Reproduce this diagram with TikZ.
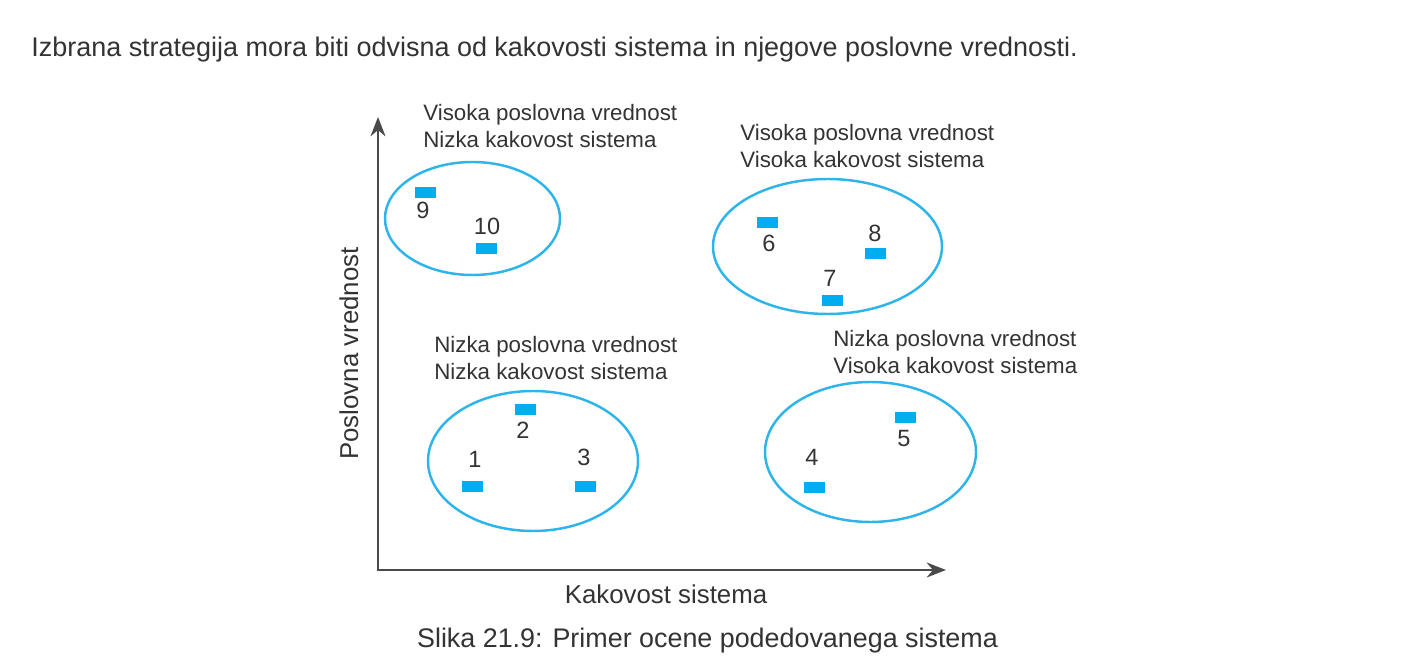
\documentclass[tikz,border=0pt]{standalone}
\usepackage{fontspec}
\setmainfont{Liberation Sans}
\usepackage{xcolor}
\definecolor{ink}{HTML}{333333}
\definecolor{axisgray}{HTML}{4A4A4A}
\definecolor{ringblue}{HTML}{2DB4EA}
\definecolor{boxblue}{HTML}{00ADEE}
\usetikzlibrary{arrows.meta}

\tikzset{
  sysbox/.style={fill=boxblue, minimum width=0.42cm, minimum height=0.22cm, inner sep=0pt},
  sysnum/.style={font=\fontsize{13.4}{16}\selectfont, inner sep=0pt},
  quadtext/.style={font=\fontsize{12.7}{15.3}\selectfont, align=left, anchor=north west, inner sep=0pt},
  ring/.style={draw=ringblue, line width=1.4pt},
}

\begin{document}
\begin{tikzpicture}[x=0.02cm, y=-0.02cm, text=ink]
  \useasboundingbox (0,0) rectangle (1403,668);

  % Lead sentence and caption
  \node[anchor=base west, inner sep=0pt, font=\fontsize{15.35}{18}\selectfont] (lead) at (31,57)
    {Izbrana strategija mora biti odvisna od kakovosti sistema in njegove poslovne vrednosti.};
  \node[anchor=base, inner sep=0pt, font=\fontsize{15.3}{18}\selectfont] (caption) at (707.5,647)
    {Slika 21.9: Primer ocene podedovanega sistema};

  % Axes
  \coordinate (origin) at (378,570);
  \coordinate (ytip) at (378,117);
  \coordinate (xtip) at (946,570);
  \draw[{Stealth[length=11pt,width=8.5pt]}-{Stealth[length=11pt,width=8.5pt]}, line width=1.2pt, color=axisgray]
    (ytip) -- (origin) -- (xtip);
  \node[anchor=base, inner sep=0pt, font=\fontsize{14.7}{17}\selectfont] (xlabel) at (666,603) {Kakovost sistema};
  \node[anchor=base, inner sep=0pt, rotate=90, font=\fontsize{14.7}{17}\selectfont] (ylabel) at (358,353.5) {Poslovna vrednost};

  % Quadrant headings
  \node[quadtext] (hvlq) at (423,104) {Visoka poslovna vrednost\\Nizka kakovost sistema};
  \node[quadtext] (hvhq) at (740,124) {Visoka poslovna vrednost\\Visoka kakovost sistema};
  \node[quadtext] (lvlq) at (434,336) {Nizka poslovna vrednost\\Nizka kakovost sistema};
  \node[quadtext] (lvhq) at (833,330) {Nizka poslovna vrednost\\Visoka kakovost sistema};

  % Groups
  \draw[ring] (472.5,218.5) ellipse [x radius=87.5, y radius=56.5];
  \draw[ring] (827.5,246.5) ellipse [x radius=114.5, y radius=67.5];
  \draw[ring] (533,461) ellipse [x radius=105, y radius=70];
  \draw[ring] (870.5,452) ellipse [x radius=105.5, y radius=70];

  % Systems
  \node[sysbox] (s1) at (472.5,487) {};
  \node[sysnum] (n1) at (475,459) {1};
  \node[sysbox] (s2) at (525,409.5) {};
  \node[sysnum] (n2) at (523,430) {2};
  \node[sysbox] (s3) at (585.5,487) {};
  \node[sysnum] (n3) at (584,457) {3};
  \node[sysbox] (s4) at (814.5,487.5) {};
  \node[sysnum] (n4) at (812,457) {4};
  \node[sysbox] (s5) at (905.5,417.5) {};
  \node[sysnum] (n5) at (904,439) {5};
  \node[sysbox] (s6) at (767,223) {};
  \node[sysnum] (n6) at (769,243) {6};
  \node[sysbox] (s7) at (832,301) {};
  \node[sysnum] (n7) at (830,278) {7};
  \node[sysbox] (s8) at (875,253.5) {};
  \node[sysnum] (n8) at (875,233) {8};
  \node[sysbox] (s9) at (425.5,192.5) {};
  \node[sysnum] (n9) at (423,210) {9};
  \node[sysbox] (s10) at (486,248.5) {};
  \node[sysnum] (n10) at (487,226) {10};

\end{tikzpicture}
\end{document}
